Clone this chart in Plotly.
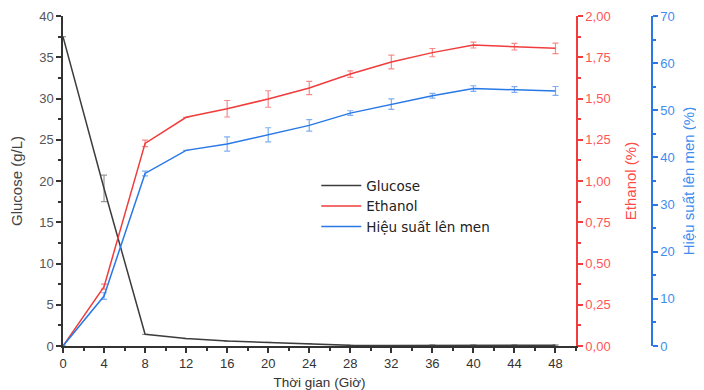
import plotly.graph_objects as go

time_h = [0, 4, 8, 12, 16, 20, 24, 28, 32, 36, 40, 44, 48]
glucose = [37.5, 19.1, 1.42, 0.9, 0.6, 0.45, 0.3, 0.08, 0.06, 0.08, 0.1, 0.1, 0.1]
glucose_err = [0, 1.6, 0, 0, 0, 0, 0, 0, 0, 0.05, 0.05, 0.05, 0.05]
ethanol = [0.0, 0.36, 1.228, 1.386, 1.438, 1.497, 1.564, 1.648, 1.721, 1.778, 1.824, 1.814, 1.804]
ethanol_err = [0, 0.015, 0.02, 0, 0.05, 0.05, 0.04, 0.02, 0.042, 0.025, 0.018, 0.02, 0.032]
yield_pct = [0.0, 10.6, 36.6, 41.5, 42.85, 44.8, 46.8, 49.4, 51.3, 53.1, 54.6, 54.4, 54.1]
yield_err = [0, 0.7, 0.5, 0, 1.5, 1.5, 1.2, 0.5, 1.1, 0.5, 0.6, 0.6, 0.95]

x_ticks = list(range(0, 49, 4))

GRAY = "#3c3c3c"
RED = "#f03c3c"
BLUE = "#2878e6"
FONT = "Liberation Sans"

fig = go.Figure()
fig.add_trace(go.Scatter(
    x=time_h, y=glucose, name="Glucose", mode="lines",
    line=dict(color=GRAY, width=1.5),
    error_y=dict(type="data", array=glucose_err, visible=True,
                 color="rgba(110,110,110,0.7)", thickness=1.2, width=3),
    yaxis="y"))
fig.add_trace(go.Scatter(
    x=time_h, y=ethanol, name="Ethanol", mode="lines",
    line=dict(color=RED, width=1.5),
    error_y=dict(type="data", array=ethanol_err, visible=True,
                 color="rgba(240,60,60,0.6)", thickness=1.2, width=3),
    yaxis="y2"))
fig.add_trace(go.Scatter(
    x=time_h, y=yield_pct, name="Hiệu suất lên men", mode="lines",
    line=dict(color=BLUE, width=1.5),
    error_y=dict(type="data", array=yield_err, visible=True,
                 color="rgba(40,120,230,0.6)", thickness=1.2, width=3),
    yaxis="y3"))

# page body has an 8px margin: figure coordinates = screen - 8
xdom = 513 / 589

fig.update_layout(
    width=696, height=382,
    margin=dict(l=55, r=52, t=8, b=44, autoexpand=False),
    paper_bgcolor="white", plot_bgcolor="white",
    separators=",.",
    font=dict(family=FONT, size=13, color="#333333"),
    showlegend=True,
    legend=dict(x=0.43, y=0.533, xanchor="left", yanchor="top",
                bgcolor="rgba(0,0,0,0)",
                font=dict(family="DejaVu Sans", size=13.5, color="#222222"),
                tracegroupgap=0, itemwidth=40),
    xaxis=dict(domain=[0, xdom], range=[0, 50], tickmode="array", tickvals=x_ticks,
               ticktext=[str(v) for v in x_ticks], automargin=False,
               showline=True, linecolor="#333333", linewidth=1.5,
               ticks="outside", ticklen=5, tickcolor="#333333", tickwidth=1.5,
               minor=dict(dtick=2, ticks="outside", ticklen=3, tickcolor="#333333", tickwidth=1.5),
               showgrid=False, zeroline=False,
               tickfont=dict(size=13, color="#333333"),
               title=dict(text="Thời gian (Giờ)", font=dict(size=13.5, color="#333333"), standoff=8)),
    yaxis=dict(range=[0, 40], dtick=5, showline=True, linecolor="#333333", linewidth=1.5,
               automargin=False,
               ticks="outside", ticklen=5, tickcolor="#333333", tickwidth=1.5,
               minor=dict(dtick=2.5, ticks="outside", ticklen=3, tickcolor="#333333", tickwidth=1.5),
               showgrid=False, zeroline=False,
               tickfont=dict(size=13, color="#555555"),
               title=dict(text="Glucose (g/L)", font=dict(size=15, color="#444444"), standoff=17)),
    yaxis2=dict(range=[0, 2], dtick=0.25, tickformat=".2f", overlaying="y", side="right",
                anchor="x", showline=True, linecolor=RED, linewidth=1.5, automargin=False,
                ticks="outside", ticklen=5, tickcolor=RED, tickwidth=1.5,
                minor=dict(dtick=0.125, ticks="outside", ticklen=3, tickcolor=RED, tickwidth=1.5),
                showgrid=False, zeroline=False,
                tickfont=dict(size=13, color="#ff5555"),
                title=dict(text="Ethanol (%)", font=dict(size=15, color="#ff4a4a"), standoff=16)),
    yaxis3=dict(range=[0, 70], dtick=10, overlaying="y", side="right", automargin=False,
                anchor="free", position=1.0, showline=True, linecolor=BLUE, linewidth=1.5,
                ticks="outside", ticklen=5, tickcolor=BLUE, tickwidth=1.5,
                minor=dict(dtick=5, ticks="outside", ticklen=3, tickcolor=BLUE, tickwidth=1.5),
                showgrid=False, zeroline=False,
                tickfont=dict(size=13, color="#3d8ef0"),
                title=dict(text="Hiệu suất lên men (%)", font=dict(size=15, color="#3d8ef0"), standoff=9)),
)

fig.write_html("out.html")
